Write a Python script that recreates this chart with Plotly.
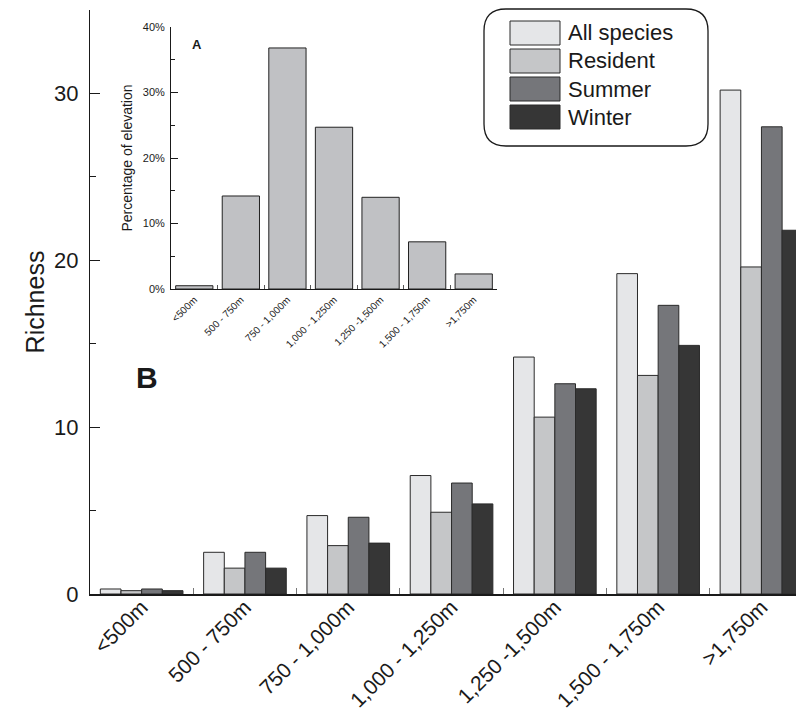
import plotly.graph_objects as go

categories = ["<500m", "500 - 750m", "750 - 1,000m", "1,000 - 1,250m",
              "1,250 -1,500m", "1,500 - 1,750m", ">1,750m"]
series_names = ["All species", "Resident", "Summer", "Winter"]
all_species = [0.3, 2.5, 4.7, 7.1, 14.2, 19.2, 30.2]
resident = [0.2, 1.55, 2.9, 4.9, 10.6, 13.1, 19.6]
summer = [0.3, 2.5, 4.6, 6.65, 12.6, 17.3, 28.0]
winter = [0.2, 1.55, 3.05, 5.4, 12.3, 14.9, 21.8]
elevation_pct = [0.5, 14.2, 36.8, 24.7, 14.0, 7.2, 2.3]
richness_ticks = [0, 10, 20, 30]
pct_ticks = [0, 10, 20, 30, 40]
pct_labels = ["0%", "10%", "20%", "30%", "40%"]

series_values = [all_species, resident, summer, winter]
series_colors = ["#e5e6e8", "#c5c6c8", "#75767a", "#363636"]

FONT = "Liberation Sans, Arial, Helvetica, sans-serif"
INK = "#1a1a1a"
# page body has an 8px default margin; size the figure so it ends at the window edge
OFF = 8
W, H = 804 - OFF, 717 - OFF
L, R, T, B = 90 - OFF, 0, 10 - OFF, 123
PW = W - L - R
PH = H - T - B
X0S, Y0S = L + OFF, T + OFF + PH  # screen position of plot-area left / bottom


def px2x(px):
    return (px - X0S) / PW


def py2y(py):
    return (Y0S - py) / PH


fig = go.Figure()

for name, vals, col in zip(series_names, series_values, series_colors):
    fig.add_trace(go.Bar(
        x=categories, y=vals, name=name,
        marker=dict(color=col, line=dict(color="#2a2a2a", width=1)),
        xaxis="x", yaxis="y", showlegend=False,
    ))

fig.add_trace(go.Bar(
    x=categories, y=elevation_pct, name="Percentage of elevation",
    marker=dict(color="#c0c1c4", line=dict(color="#222222", width=1)),
    xaxis="x2", yaxis="y2", showlegend=False,
))

# inset domain (screen pixels)
ix0, ix1 = 171, 497
iy_top, iy_bot = 27, 289

fig.update_layout(
    width=W, height=H,
    margin=dict(l=L, r=R, t=T, b=B, autoexpand=False),
    paper_bgcolor="white", plot_bgcolor="white",
    barmode="group", bargap=0.2, bargroupgap=0,
    font=dict(family=FONT, color=INK),
    xaxis=dict(
        domain=[0, 1], range=[-0.5, -0.5 + PW / 103.3], automargin=False,
        showline=True, linecolor=INK, linewidth=1.5,
        ticks="inside", ticklen=6, tickcolor="#777777", tickwidth=1.2,
        tickson="boundaries", tickangle=-45, ticklabelstandoff=-9,
        tickfont=dict(size=21, family=FONT, color=INK), showgrid=False, zeroline=False,
    ),
    yaxis=dict(
        domain=[0, 1], range=[0, 35], automargin=False,
        showline=True, linecolor=INK, linewidth=1.2,
        tickmode="array", tickvals=richness_ticks, ticks="inside", ticklen=10,
        tickcolor=INK,
        minor=dict(ticks="inside", ticklen=6, tickcolor=INK, tickvals=[5, 15, 25]),
        tickfont=dict(size=22, family=FONT, color=INK), ticklabelstandoff=6,
        title=dict(text="Richness", font=dict(size=25, family=FONT, color=INK), standoff=2),
        showgrid=False, zeroline=False,
    ),
    xaxis2=dict(
        domain=[px2x(ix0), px2x(ix1)], range=[-0.5, 6.5], anchor="y2", automargin=False,
        showline=True, linecolor=INK, linewidth=1.2,
        ticks="inside", ticklen=4, tickcolor="#555555",
        tickson="boundaries", tickangle=-45,
        tickfont=dict(size=10, family=FONT, color=INK), showgrid=False, zeroline=False,
    ),
    yaxis2=dict(
        domain=[py2y(iy_bot), py2y(iy_top)], range=[0, 40], anchor="x2", automargin=False,
        showline=True, linecolor=INK, linewidth=1,
        tickmode="array", tickvals=pct_ticks, ticktext=pct_labels,
        ticks="inside", ticklen=7, tickcolor=INK,
        minor=dict(ticks="inside", ticklen=4, tickcolor=INK, tickvals=[5, 15, 25, 35]),
        tickfont=dict(size=11, family=FONT, color=INK), ticklabelstandoff=3,
        title=dict(text="Percentage of elevation",
                   font=dict(size=14, family=FONT, color=INK), standoff=6),
        showgrid=False, zeroline=False,
    ),
)

# panel labels
fig.add_annotation(text="<b>B</b>", x=px2x(147), y=py2y(377), xref="paper", yref="paper",
                   showarrow=False, font=dict(size=30, family=FONT, color=INK),
                   xanchor="center", yanchor="middle")
fig.add_annotation(text="<b>A</b>", x=px2x(197), y=py2y(44), xref="paper", yref="paper",
                   showarrow=False, font=dict(size=13, family=FONT, color=INK),
                   xanchor="center", yanchor="middle")

# custom legend with rounded box
bx0, bx1, by0, by1, rr = 484, 708, 9, 146, 22


def P(px, py):
    return f"{px2x(px):.5f},{py2y(py):.5f}"


path = (f"M {P(bx0 + rr, by0)} L {P(bx1 - rr, by0)} Q {P(bx1, by0)} {P(bx1, by0 + rr)} "
        f"L {P(bx1, by1 - rr)} Q {P(bx1, by1)} {P(bx1 - rr, by1)} "
        f"L {P(bx0 + rr, by1)} Q {P(bx0, by1)} {P(bx0, by1 - rr)} "
        f"L {P(bx0, by0 + rr)} Q {P(bx0, by0)} {P(bx0 + rr, by0)} Z")
fig.add_shape(type="path", path=path, xref="paper", yref="paper",
              line=dict(color=INK, width=1.3), fillcolor="white", layer="above")

row_tops = [21, 49, 77, 105]
for name, col, rt in zip(series_names, series_colors, row_tops):
    fig.add_shape(type="rect", xref="paper", yref="paper",
                  x0=px2x(510), x1=px2x(560), y0=py2y(rt + 24), y1=py2y(rt),
                  fillcolor=col, line=dict(color="#2a2a2a", width=1), layer="above")
    fig.add_annotation(text=name, x=px2x(566), y=py2y(rt + 12), xref="paper", yref="paper",
                       showarrow=False, xanchor="left", yanchor="middle",
                       font=dict(size=22, family=FONT, color=INK))

fig.write_html("out.html")
